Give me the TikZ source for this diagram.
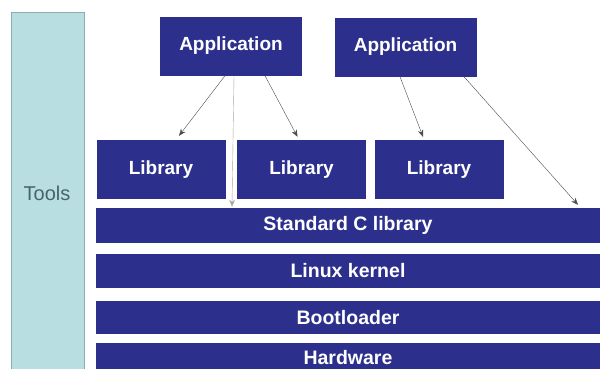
\documentclass[tikz,border=0pt]{standalone}
\usepackage{fontspec}
\setmainfont{Liberation Sans}
\usetikzlibrary{arrows.meta}
\definecolor{stackblue}{RGB}{44,48,140}
\definecolor{toolfill}{RGB}{184,222,226}
\definecolor{tooledge}{RGB}{140,172,176}
\definecolor{tooltext}{RGB}{70,100,106}
\tikzset{
  box/.style={draw=none,fill=stackblue,text=white,font=\bfseries\fontsize{19}{21}\selectfont,inner sep=0pt},
  appbox/.style={box,minimum width=142pt,minimum height=59pt},
  libbox/.style={box,minimum width=129pt,minimum height=59pt},
  layerbox/.style={box,minimum width=504pt,font=\bfseries\fontsize{19.5}{21}\selectfont},
  link/.style={draw=black!70,thin,-{Stealth[length=7pt,width=5.5pt]}}
}
\begin{document}
\begin{tikzpicture}[x=1pt,y=-1pt]
  \clip (0,0) rectangle (600,368);
  \fill[white] (0,0) rectangle (600,368);
  % tools column
  \node[draw=tooledge,fill=toolfill,minimum width=73pt,minimum height=368pt,inner sep=0pt] (tools) at (47.5,196) {};
  \node[text=tooltext,font=\fontsize{20}{22}\selectfont] (toolslabel) at (47,193) {Tools};
  % applications
  \node[appbox] (app1) at (231,46) {Application};
  \node[appbox] (app2) at (405.5,47) {Application};
  % libraries
  \node[libbox] (lib1) at (161,169.5) {Library};
  \node[libbox] (lib2) at (301.5,169.5) {Library};
  \node[libbox] (lib3) at (439,169.5) {Library};
  % system layers
  \node[layerbox,minimum height=35pt] (stdc) at (348,225.5) {Standard C library};
  \node[layerbox,minimum height=34pt] (kernel) at (348,271) {Linux kernel};
  \node[layerbox,minimum height=33pt] (boot) at (348,317.5) {Bootloader};
  \node[layerbox,minimum height=30pt] (hw) at (348,358) {Hardware};
  % calls
  \draw[link] ([xshift=-6pt]app1.south) -- ([xshift=18pt,yshift=4pt]lib1.north);
  \draw[link,draw=black!35] ([xshift=3pt]app1.south) -- ([xshift=-116pt,yshift=1pt]stdc.north);
  \draw[link] ([xshift=34pt]app1.south) -- ([xshift=-4pt,yshift=3pt]lib2.north);
  \draw[link] ([xshift=-5.5pt]app2.south) -- ([xshift=-16pt,yshift=3pt]lib3.north);
  \draw[link] ([xshift=58.5pt]app2.south) -- ([xshift=230pt,yshift=3pt]stdc.north);
\end{tikzpicture}
\end{document}
